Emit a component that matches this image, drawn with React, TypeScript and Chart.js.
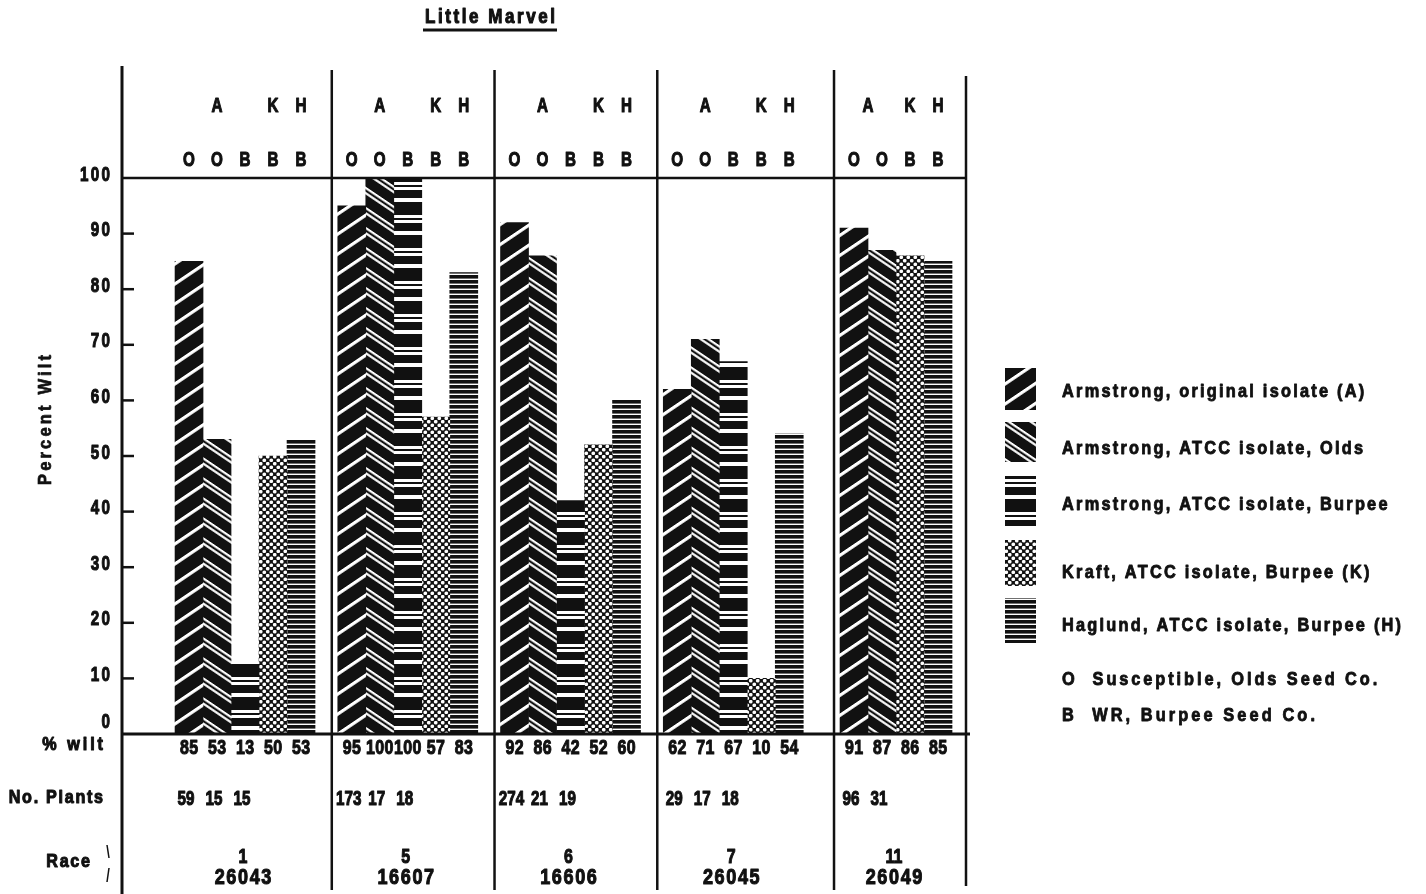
import React, { useEffect, useRef } from "react";
import { Chart, registerables } from "chart.js";

Chart.register(...registerables);

// ---------- data ----------
const TITLE = "Little Marvel";
const Y_TITLE = "Percent Wilt";
const raceNumbers = ["1", "5", "6", "7", "11"];
const raceCodes = ["26043", "16607", "16606", "26045", "26049"];
const seriesLabels = [
  "Armstrong, original isolate (A)",
  "Armstrong, ATCC isolate, Olds",
  "Armstrong, ATCC isolate, Burpee",
  "Kraft, ATCC isolate, Burpee (K)",
  "Haglund, ATCC isolate, Burpee (H)",
];
const isolateLetters = ["A", "A", "A", "K", "H"];
const seedLetters = ["O", "O", "B", "B", "B"];
const wiltArmstrongOriginal = [85, 95, 92, 62, 91];
const wiltArmstrongOlds = [53, 100, 86, 71, 87];
const wiltArmstrongBurpee = [13, 100, 42, 67, null];
const wiltKraftBurpee = [50, 57, 52, 10, 86];
const wiltHaglundBurpee = [53, 83, 60, 54, 85];
const plantsArmstrongOriginal = [59, 173, 274, 29, 96];
const plantsArmstrongOlds = [15, 17, 21, 17, 31];
const plantsArmstrongBurpee = [15, 18, 19, 18, null];
const yTickValues = [0, 10, 20, 30, 40, 50, 60, 70, 80, 90, 100];
const rowLabels = ["% wilt", "No. Plants", "Race"];
const footnotes = ["O  Susceptible, Olds Seed Co.", "B  WR, Burpee Seed Co."];

const wiltSeries = [
  wiltArmstrongOriginal,
  wiltArmstrongOlds,
  wiltArmstrongBurpee,
  wiltKraftBurpee,
  wiltHaglundBurpee,
];
const plantSeries = [plantsArmstrongOriginal, plantsArmstrongOlds, plantsArmstrongBurpee];

// ---------- style ----------
const INK = "#111111";
const FAMILY = '"Liberation Sans", Arial, sans-serif';
const font = (size: number) => `bold ${size}px ${FAMILY}`;

function makeTile(w: number, h: number, draw: (g: CanvasRenderingContext2D) => void) {
  const c = document.createElement("canvas");
  c.width = w;
  c.height = h;
  const g = c.getContext("2d")!;
  draw(g);
  return c;
}

function stripePattern(
  ctx: CanvasRenderingContext2D,
  period: number,
  whites: [number, number][],
  skewDeg: number
) {
  const tile = makeTile(8, period, (g) => {
    g.fillStyle = INK;
    g.fillRect(0, 0, 8, period);
    g.fillStyle = "#ffffff";
    for (const [a, b] of whites) g.fillRect(0, a, 8, b - a);
  });
  const p = ctx.createPattern(tile, "repeat")!;
  if (skewDeg) p.setTransform(new DOMMatrix().skewYSelf(skewDeg));
  return p;
}

function dotPattern(ctx: CanvasRenderingContext2D) {
  const s = 7;
  const tile = makeTile(s, s, (g) => {
    g.fillStyle = INK;
    g.fillRect(0, 0, s, s);
    g.fillStyle = "#ffffff";
    const centers = [
      [s * 0.25, s * 0.25],
      [s * 0.75, s * 0.75],
    ];
    for (const [cx, cy] of centers) {
      for (const dx of [-s, 0, s]) {
        for (const dy of [-s, 0, s]) {
          g.beginPath();
          g.arc(cx + dx, cy + dy, 1.85, 0, Math.PI * 2);
          g.fill();
        }
      }
    }
  });
  return ctx.createPattern(tile, "repeat")!;
}

function makePatterns(ctx: CanvasRenderingContext2D) {
  return [
    stripePattern(ctx, 20, [[0, 3.8]], -34),
    stripePattern(ctx, 20, [[0, 2.6], [5.2, 7.8]], 34),
    stripePattern(ctx, 33, [[0, 4], [17, 20], [22, 25]], 0),
    dotPattern(ctx),
    stripePattern(ctx, 5.8, [[3.6, 5.8]], 0),
  ];
}

// condensed heavy text (horizontal compression of a real font, thickened by a stroke)
function txt(
  ctx: CanvasRenderingContext2D,
  s: string,
  x: number,
  y: number,
  size: number,
  align: CanvasTextAlign = "center",
  spacing = 0,
  sx = 0.76,
  stroke = 1.1
) {
  ctx.save();
  ctx.font = font(size);
  ctx.textAlign = align;
  ctx.textBaseline = "middle";
  ctx.fillStyle = INK;
  ctx.strokeStyle = INK;
  ctx.lineWidth = stroke;
  ctx.lineJoin = "round";
  (ctx as any).letterSpacing = spacing + "px";
  let dx = 0;
  if (spacing && align === "center") dx = spacing / 2;
  if (spacing && align === "right") dx = spacing;
  ctx.translate(x, y);
  ctx.scale(sx, 1);
  ctx.fillText(s, dx, 0);
  if (stroke > 0) ctx.strokeText(s, dx, 0);
  ctx.restore();
}

function line(ctx: CanvasRenderingContext2D, x1: number, y1: number, x2: number, y2: number, w: number) {
  ctx.beginPath();
  ctx.lineWidth = w;
  ctx.strokeStyle = INK;
  ctx.moveTo(x1, y1);
  ctx.lineTo(x2, y2);
  ctx.stroke();
}

const decorPlugin = {
  id: "decor",
  afterDraw(chart: any) {
    const ctx: CanvasRenderingContext2D = chart.ctx;
    const area = chart.chartArea;
    const y = chart.scales.y;
    const n = raceNumbers.length;
    ctx.save();

    // title
    txt(ctx, TITLE, 490, 17, 20, "center", 3, 0.85);
    line(ctx, 423, 30, 557, 30, 2.8);

    // y axis title
    ctx.save();
    ctx.translate(46, 420);
    ctx.rotate(-Math.PI / 2);
    txt(ctx, Y_TITLE, 0, 0, 18, "center", 3.4, 0.92, 0.7);
    ctx.restore();

    // left axis, tick labels and inner ticks
    line(ctx, area.left, 66, area.left, 894, 3);
    for (const v of yTickValues) {
      const py = y.getPixelForValue(v);
      txt(ctx, String(v), 110, v === 0 ? py - 12 : py - 3, 20, "right", 3);
      if (v === 0 || v === 100) continue;
      line(ctx, area.left, py, area.left + 12, py, 2.5);
    }
    // 100 and 0 lines
    line(ctx, area.left, y.getPixelForValue(100), area.right, y.getPixelForValue(100), 2.5);
    line(ctx, area.left, y.getPixelForValue(0), area.right + 4, y.getPixelForValue(0), 3);

    // bar geometry per index
    const bars: { x: number; w: number; d: number }[][] = [];
    for (let i = 0; i < n; i++) {
      const list: { x: number; w: number; d: number }[] = [];
      wiltSeries.forEach((s, d) => {
        if (s[i] === null || s[i] === undefined) return;
        const el = chart.getDatasetMeta(d).data[i];
        list.push({ x: el.x, w: el.width, d });
      });
      bars.push(list);
    }

    // separators
    for (let i = 1; i < n; i++) {
      const first = bars[i][0];
      const sx = first.x - first.w / 2 - 6;
      line(ctx, sx, 70, sx, 890, 2.5);
    }
    line(ctx, area.right, 76, area.right, 886, 2.5);

    for (let i = 0; i < n; i++) {
      const list = bars[i];
      // seed letters
      for (const b of list) txt(ctx, seedLetters[b.d], b.x, 160, 20);
      // isolate letters grouped
      const groups: Record<string, number[]> = {};
      const order: string[] = [];
      for (const b of list) {
        const L = isolateLetters[b.d];
        if (!groups[L]) {
          groups[L] = [];
          order.push(L);
        }
        groups[L].push(b.x);
      }
      for (const L of order) {
        const xs = groups[L];
        txt(ctx, L, xs.reduce((a, c) => a + c, 0) / xs.length, 106, 20);
      }
      // % wilt
      for (const b of list) txt(ctx, String(wiltSeries[b.d][i]), b.x, 748, 21, "center", 0.5);
      // plants
      for (const b of list) {
        if (b.d < plantSeries.length) {
          const v = plantSeries[b.d][i];
          if (v !== null && v !== undefined) txt(ctx, String(v), b.x - 3, 799, 20);
        }
      }
      // race
      const cx = list.reduce((a, c) => a + c.x, 0) / list.length;
      txt(ctx, raceNumbers[i], cx - 2, 857, 21);
      txt(ctx, raceCodes[i], cx - 2, 878, 22, "center", 2, 0.82);
    }

    // row labels
    txt(ctx, rowLabels[0], 103, 745, 19, "right", 3.5, 0.85);
    txt(ctx, rowLabels[1], 103, 798, 19, "right", 2, 0.85);
    txt(ctx, rowLabels[2], 90, 862, 19, "right", 2, 0.85);
    line(ctx, 107, 845, 109, 858, 1.5);
    line(ctx, 109, 868, 107, 882, 1.5);

    // legend
    const legendRows = [
      { top: 368, h: 42, ty: 392 },
      { top: 422, h: 40, ty: 449 },
      { top: 476, h: 50, ty: 505 },
      { top: 540, h: 46, ty: 573 },
      { top: 598, h: 45, ty: 626 },
    ];
    chart.data.datasets.forEach((ds: any, k: number) => {
      const r = legendRows[k];
      ctx.fillStyle = ds.backgroundColor;
      ctx.fillRect(1005, r.top, 31, r.h);
      txt(ctx, ds.label, 1062, r.ty, 19, "left", 2.6, 0.86, 0.9);
    });
    txt(ctx, footnotes[0], 1062, 680, 19, "left", 3.4, 0.86, 0.9);
    txt(ctx, footnotes[1], 1062, 716, 19, "left", 3.6, 0.86, 0.9);

    ctx.restore();
  },
};

export default function App() {
  const ref = useRef<HTMLCanvasElement | null>(null);
  useEffect(() => {
    const canvas = ref.current!;
    const ctx = canvas.getContext("2d")!;
    const patterns = makePatterns(ctx);
    const chart = new Chart(ctx, {
      type: "bar",
      data: {
        datasets: wiltSeries.map((s, k) => ({
          label: seriesLabels[k],
          data: s.map((v, i) => ({ x: i, y: v })),
          backgroundColor: patterns[k],
          borderWidth: 0,
          barThickness: 28,
          skipNull: true,
        })) as any,
      },
      options: {
        animation: false,
        responsive: false,
        maintainAspectRatio: false,
        layout: { padding: { left: 34, top: 178, right: 460, bottom: 160 } },
        plugins: {
          legend: { display: false },
          tooltip: { enabled: false },
          title: { display: false },
        },
        scales: {
          x: {
            type: "linear",
            min: -0.756,
            max: 4.43,
            display: false,
            offset: false,
            grid: { display: false },
          },
          y: {
            type: "linear",
            min: 0,
            max: 100,
            afterFit: (s: any) => {
              s.width = 88;
            },
            afterBuildTicks: (s: any) => {
              s.ticks = yTickValues.map((v) => ({ value: v }));
            },
            ticks: { display: false },
            grid: { display: false, drawTicks: false },
            border: { display: false },
            title: { display: false },
          },
        },
      } as any,
      plugins: [decorPlugin],
    });
    return () => chart.destroy();
  }, []);
  return (
    <div style={{ position: "fixed", left: 0, top: 0, width: 1426, height: 894, background: "#fff" }}>
      <canvas ref={ref} width={1426} height={894} style={{ width: 1426, height: 894, display: "block" }} />
    </div>
  );
}
